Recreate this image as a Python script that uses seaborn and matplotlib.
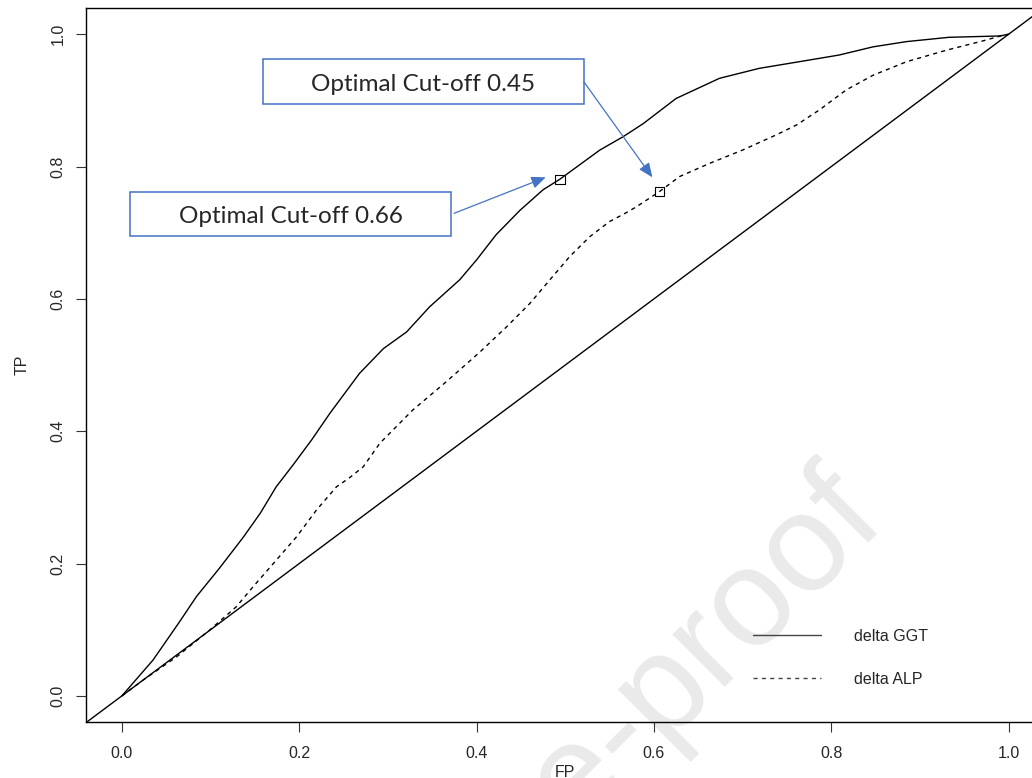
import matplotlib
matplotlib.use("Agg")
import matplotlib.pyplot as plt
from matplotlib.patches import Rectangle
from matplotlib.lines import Line2D
import seaborn as sns
import pandas as pd

# ROC curve for delta GGT (false positive rate, true positive rate)
ggt_fp = [0, 0.035, 0.065, 0.084, 0.110, 0.137, 0.156, 0.174, 0.193, 0.214,
          0.2345, 0.268, 0.295, 0.321, 0.347, 0.381, 0.400, 0.422, 0.449, 0.475,
          0.494, 0.539, 0.565, 0.588, 0.625, 0.674, 0.719, 0.764, 0.809, 0.847,
          0.885, 0.933, 0.990, 1.0]
ggt_tp = [0, 0.054, 0.112, 0.150, 0.193, 0.240, 0.276, 0.316, 0.349, 0.387,
          0.427, 0.4875, 0.525, 0.550, 0.588, 0.629, 0.659, 0.697, 0.734, 0.765,
          0.781, 0.825, 0.845, 0.865, 0.903, 0.9335, 0.9486, 0.9586, 0.9687, 0.981,
          0.989, 0.9955, 0.9975, 1.0]

# ROC curve for delta ALP
alp_fp = [0, 0.024, 0.0617, 0.099, 0.129, 0.148, 0.174, 0.197, 0.2195, 0.242,
          0.257, 0.272, 0.291, 0.328, 0.366, 0.404, 0.434, 0.460, 0.4825, 0.505,
          0.5276, 0.550, 0.567, 0.580, 0.606, 0.629, 0.663, 0.700, 0.738, 0.761,
          0.787, 0.817, 0.847, 0.885, 0.930, 0.971, 0.995, 1.0]
alp_tp = [0, 0.024, 0.059, 0.0995, 0.1347, 0.165, 0.205, 0.2405, 0.281, 0.316,
          0.330, 0.346, 0.382, 0.432, 0.475, 0.520, 0.558, 0.593, 0.6286, 0.664,
          0.694, 0.717, 0.729, 0.739, 0.762, 0.785, 0.805, 0.825, 0.848, 0.863,
          0.886, 0.916, 0.938, 0.9586, 0.976, 0.990, 0.999, 1.0]

# Optimal cut-off points (FP, TP) and their thresholds
opt_fp = [0.494, 0.606]
opt_tp = [0.781, 0.762]
opt_cutoff = [0.66, 0.45]

series_labels = ["delta GGT", "delta ALP"]
ticks = [0.0, 0.2, 0.4, 0.6, 0.8, 1.0]
tick_labels = ["0.0", "0.2", "0.4", "0.6", "0.8", "1.0"]

sns.set_style("ticks")
plt.rcParams["font.family"] = ["Liberation Sans", "DejaVu Sans"]
plt.rcParams["font.size"] = 11.5

fig = plt.figure(figsize=(10.32, 7.78), dpi=100)
ax = fig.add_axes([0.0838, 0.0716, 0.9278, 0.9183])
ax.set_facecolor("none")

# Faint page watermark
fig.text(888 / 1032, 1 - 524 / 778, "Journal Pre-proof", rotation=45,
         rotation_mode="anchor", ha="right", va="baseline", fontsize=100,
         color="#eaeaea", family=["Liberation Sans"], zorder=-1)

df_ggt = pd.DataFrame({"FP": ggt_fp, "TP": ggt_tp})
df_alp = pd.DataFrame({"FP": alp_fp, "TP": alp_tp})
sns.lineplot(data=df_ggt, x="FP", y="TP", ax=ax, color="black", lw=1.0,
             sort=False, estimator=None)
sns.lineplot(data=df_alp, x="FP", y="TP", ax=ax, color="black", lw=1.0,
             sort=False, estimator=None, ls=(0, (3, 3)))
ax.axline((0, 0), (1, 1), color="black", lw=1.0)

sns.scatterplot(x=opt_fp, y=opt_tp, ax=ax, marker="s", s=45,
                facecolor="none", edgecolor="black", linewidth=0.8, zorder=5)

ax.set_xlim(-0.04, 1.04)
ax.set_ylim(-0.04, 1.04)
ax.set_xticks(ticks)
ax.set_xticklabels(tick_labels)
ax.set_yticks(ticks)
ax.set_yticklabels(tick_labels, rotation=90, va="center")
ax.tick_params(direction="out", length=7, width=0.8, color="#333333",
               labelsize=11.5)
ax.tick_params(axis="x", pad=10)
ax.tick_params(axis="y", pad=8)
for s in ax.spines.values():
    s.set_linewidth(1.0)
    s.set_color("black")
ax.set_xlabel("FP", fontsize=11.5, labelpad=3)
ax.set_ylabel("TP", fontsize=11.5, labelpad=15)

# Legend
handles = [Line2D([], [], color="#444444", lw=1.0),
           Line2D([], [], color="#444444", lw=1.0, ls=(0, (3, 3)))]
ax.legend(handles, series_labels, frameon=False, loc="upper left",
          bbox_to_anchor=(0.696, 0.1306), borderpad=0, borderaxespad=0,
          handlelength=4.25, handletextpad=2.1, labelspacing=1.75, fontsize=11.5)

# Call-out boxes with arrows to the cut-off points
blue = "#4472C4"
boxes = [
    # box corners (x0, y0, x1, y1) in data units, cut-off index, arrow start
    ((0.1586, 0.8946, 0.5209, 0.9622), 1, (0.5209, 0.9284)),
    ((0.009, 0.6951, 0.3717, 0.762), 0, (0.3746, 0.7294)),
]
tips = {1: (0.5983, 0.7838), 0: (0.478, 0.7838)}
for (x0, y0, x1, y1), idx, start in boxes:
    ax.add_patch(Rectangle((x0, y0), x1 - x0, y1 - y0, fill=True, facecolor="white",
                           edgecolor=blue, lw=1.1, zorder=6, clip_on=False))
    ax.text((x0 + x1) / 2, (y0 + y1) / 2 - 0.004, f"Optimal Cut-off {opt_cutoff[idx]:.2f}",
            ha="center", va="center", fontsize=17.5, family=["Lato"], zorder=7)
    ax.annotate("", xy=tips[idx], xytext=start,
                arrowprops=dict(arrowstyle="-|>,head_length=0.75,head_width=0.32",
                                color=blue, lw=0.9, shrinkA=0, shrinkB=0), zorder=7)

fig.savefig("out.png", dpi=100)
